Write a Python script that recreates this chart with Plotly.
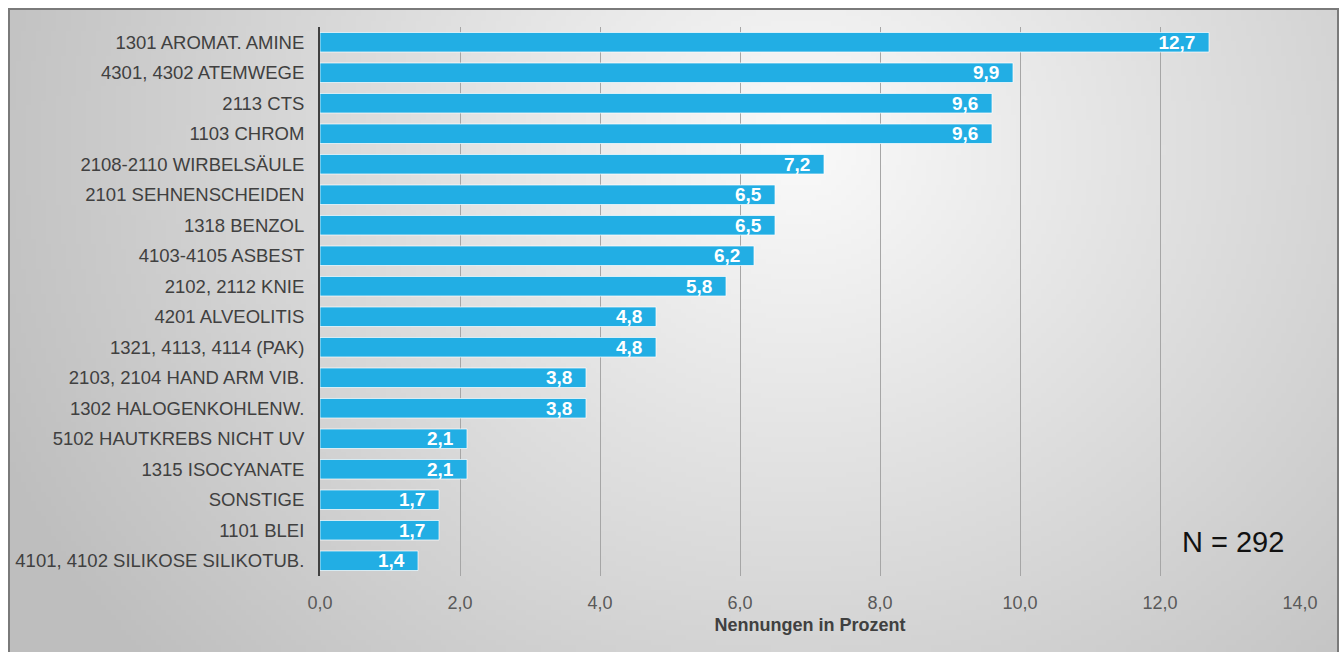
import base64, struct, zlib, math
import plotly.graph_objects as go

categories = [
    "1301 AROMAT. AMINE", "4301, 4302 ATEMWEGE", "2113 CTS", "1103 CHROM",
    "2108-2110 WIRBELSÄULE", "2101 SEHNENSCHEIDEN", "1318 BENZOL", "4103-4105 ASBEST",
    "2102, 2112 KNIE", "4201 ALVEOLITIS", "1321, 4113, 4114 (PAK)", "2103, 2104 HAND ARM VIB.",
    "1302 HALOGENKOHLENW.", "5102 HAUTKREBS NICHT UV", "1315 ISOCYANATE", "SONSTIGE",
    "1101 BLEI", "4101, 4102 SILIKOSE SILIKOTUB.",
]
values = [12.7, 9.9, 9.6, 9.6, 7.2, 6.5, 6.5, 6.2, 5.8, 4.8, 4.8, 3.8, 3.8, 2.1, 2.1, 1.7, 1.7, 1.4]
x_ticks = [0, 2, 4, 6, 8, 10, 12, 14]

W, H = 1340, 652
ML, MR, MT, MB = 320, 40, 27, 76
PW, PH = W - ML - MR, H - MT - MB

def px2x(px):
    return (px - ML) / PW

def py2y(py):
    return (H - MB - py) / PH

# radial gradient background image
gw, gh = 266, 130
fx0, fy0, fx1, fy1 = 9, 9, 1338, 652
rows = []
for j in range(gh):
    row = bytearray([0])
    for i in range(gw):
        px = fx0 + (fx1 - fx0) * (i + 0.5) / gw
        py = fy0 + (fy1 - fy0) * (j + 0.5) / gh
        d = math.hypot((px - 800) / 1.0, (py - 150) / 0.9)
        v = 250 - 54 * min(d / 790, 1.15)
        v = int(max(190, min(250, v)))
        row += bytes([v, v, v])
    rows.append(bytes(row))
raw = b"".join(rows)

def chunk(t, d):
    c = struct.pack(">I", len(d)) + t + d
    return c + struct.pack(">I", zlib.crc32(t + d) & 0xffffffff)

png = b"\x89PNG\r\n\x1a\n" + chunk(b"IHDR", struct.pack(">IIBBBBB", gw, gh, 8, 2, 0, 0, 0)) \
    + chunk(b"IDAT", zlib.compress(raw, 9)) + chunk(b"IEND", b"")
img_uri = "data:image/png;base64," + base64.b64encode(png).decode()

fig = go.Figure(go.Bar(
    x=values, y=categories, orientation="h",
    marker=dict(color="#22AEE4", line=dict(color="rgba(255,255,255,0.7)", width=1)),
    width=0.64,
    texttemplate="%{x:.1f}\u00a0\u00a0", textposition="inside", insidetextanchor="end",
    constraintext="none",
    textfont=dict(color="white", size=19, family="Liberation Sans", weight="bold"),
    cliponaxis=False,
))

fig.update_layout(
    width=W, height=H,
    margin=dict(l=ML, r=MR, t=MT, b=MB),
    paper_bgcolor="white", plot_bgcolor="rgba(0,0,0,0)",
    separators=",.",
    font=dict(family="Liberation Sans", color="#404040"),
    showlegend=False,
    xaxis=dict(
        range=[0, 14], tickvals=x_ticks, tickformat=".1f",
        showgrid=True, gridcolor="#a6a6a6", gridwidth=1,
        zeroline=False, showline=False,
        tickfont=dict(size=18, color="#595959"),
        ticklabelstandoff=14,
        title=dict(text="<b>Nennungen in Prozent</b>", font=dict(size=18, color="#404040"), standoff=6),
    ),
    yaxis=dict(
        autorange="reversed", showgrid=False, zeroline=False,
        showline=True, linecolor="#404040", linewidth=2,
        tickfont=dict(size=18.5, color="#404040"),
        ticklabelstandoff=10,
    ),
    images=[dict(
        source=img_uri, xref="paper", yref="paper",
        x=px2x(fx0), y=py2y(fy0), sizex=(fx1 - fx0) / PW, sizey=(fy1 - fy0) / PH,
        xanchor="left", yanchor="top", sizing="stretch", layer="below",
    )],
    shapes=[dict(
        type="rect", xref="paper", yref="paper",
        x0=px2x(fx0), x1=px2x(fx1), y0=py2y(fy0), y1=py2y(H + 10),
        line=dict(color="#7a7a7a", width=2), fillcolor="rgba(0,0,0,0)", layer="above",
    )],
    annotations=[dict(
        text="N = 292", xref="paper", yref="paper",
        x=px2x(1233), y=py2y(542), xanchor="center", yanchor="middle",
        showarrow=False, font=dict(size=29, color="#111111", family="Liberation Sans"),
    )],
)

fig.write_html("out.html")
